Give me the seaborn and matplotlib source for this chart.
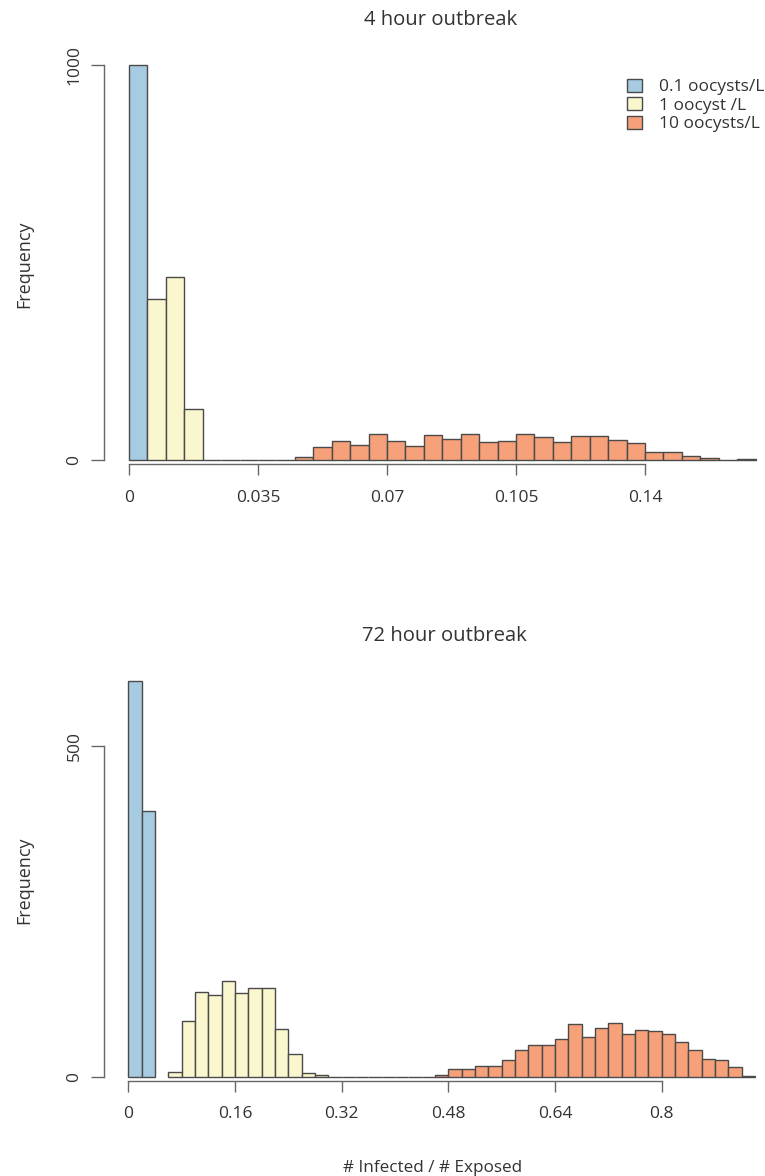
import matplotlib
matplotlib.use("Agg")
import numpy as np
import pandas as pd
import seaborn as sns
import matplotlib.pyplot as plt

sns.set_style("white")
plt.rcParams['font.family'] = ['Open Sans', 'DejaVu Sans']

# series names and colours
labels = ["0.1 oocysts/L", "1 oocyst /L", "10 oocysts/L"]
colors = ["#a7cbe0", "#faf6cd", "#f6a17a"]

# 4 hour outbreak: bin width 0.005, counts per bin starting at given left edge
top_width = 0.005
top_blue_start = 0.0
top_blue = [1000]
top_yellow_start = 0.005
top_yellow = [408, 463, 129]
top_orange_start = 0.02
top_orange = [0, 0, 0, 0, 0, 7, 32, 48, 38, 67, 49, 35, 64, 53, 67, 46, 48, 65,
              57, 45, 62, 62, 50, 44, 19, 19, 11, 4, 0, 2]
top_xticks = [0, 0.035, 0.07, 0.105, 0.14]
top_yticks = [0, 1000]

# 72 hour outbreak: bin width 0.02
bot_width = 0.02
bot_blue_start = 0.0
bot_blue = [598, 402]
bot_yellow_start = 0.06
bot_yellow = [7, 84, 128, 124, 144, 127, 134, 134, 72, 35, 6, 2]
bot_orange_start = 0.3
bot_orange = [0, 0, 0, 0, 0, 0, 0, 0, 2, 11, 12, 16, 16, 25, 40, 48, 48, 57, 79,
              60, 73, 81, 65, 70, 69, 65, 53, 41, 26, 25, 14, 1]
bot_xticks = [0, 0.16, 0.32, 0.48, 0.64, 0.8]
bot_yticks = [0, 500]

W, H = 765, 1176
fig = plt.figure(figsize=(W / 100, H / 100), dpi=100)


def draw_hist(ax, start, counts, width, color, label):
    edges = start + width * np.arange(len(counts) + 1)
    df = pd.DataFrame({"x": (edges[:-1] + edges[1:]) / 2, "n": counts})
    sns.histplot(data=df, x="x", weights="n", bins=list(edges), color=color,
                 alpha=1, edgecolor="#4a4a4a", linewidth=1.0, label=label, ax=ax)


def style_axis(ax, xticks, yticks):
    for s in ["top", "right"]:
        ax.spines[s].set_visible(False)
    for s in ["left", "bottom"]:
        ax.spines[s].set_color("#666666")
        ax.spines[s].set_linewidth(1.0)
    ax.spines["bottom"].set_bounds(xticks[0], xticks[-1])
    ax.spines["left"].set_bounds(yticks[0], yticks[-1])
    ax.set_xticks(xticks)
    ax.set_xticklabels([f"{t:g}" for t in xticks])
    ax.set_yticks(yticks)
    ax.set_yticklabels([str(t) for t in yticks], rotation=90, va="center")
    ax.tick_params(axis="x", direction="out", length=8, width=1, color="#666666",
                   labelsize=12.5, labelcolor="#333333", pad=10.5, bottom=True)
    ax.tick_params(axis="y", direction="out", length=9.5, width=1, color="#666666",
                   labelsize=12.5, labelcolor="#333333", pad=6, left=True)
    ax.set_xlabel("")
    ax.set_ylabel("")
    ax.grid(False)


# top panel
ax1 = fig.add_axes([104 / W, 1 - 464 / H, 661 / W, 414 / H])
draw_hist(ax1, top_blue_start, top_blue, top_width, colors[0], labels[0])
draw_hist(ax1, top_yellow_start, top_yellow, top_width, colors[1], labels[1])
draw_hist(ax1, top_orange_start, top_orange, top_width, colors[2], labels[2])
ax1.set_xlim(-25 / 3686, (765 - 129) / 3686)
ax1.set_ylim(-4 / 0.395, 410 / 0.395)
style_axis(ax1, top_xticks, top_yticks)
ax1.legend(loc="upper left", bbox_to_anchor=(627 / W, 1 - 79 / H),
           bbox_transform=fig.transFigure, frameon=False, fontsize=12.5,
           handlelength=0.86, handleheight=0.75, handletextpad=1.0,
           labelspacing=0.12, borderpad=0, borderaxespad=0, labelcolor="#333333")

# bottom panel
ax2 = fig.add_axes([104 / W, 1 - 1080.7 / H, 661 / W, 415.7 / H])
draw_hist(ax2, bot_blue_start, bot_blue, bot_width, colors[0], labels[0])
draw_hist(ax2, bot_yellow_start, bot_yellow, bot_width, colors[1], labels[1])
draw_hist(ax2, bot_orange_start, bot_orange, bot_width, colors[2], labels[2])
ax2.set_xlim(-24.3 / 666.7, (765 - 128.3) / 666.7)
ax2.set_ylim(-4 / 0.662, 411.7 / 0.662)
style_axis(ax2, bot_xticks, bot_yticks)

txt = dict(color="#333333", ha="center")
fig.text(441 / W, 1 - 25 / H, "4 hour outbreak", fontsize=14.6, va="baseline", **txt)
fig.text(444 / W, 1 - 641 / H, "72 hour outbreak", fontsize=14.6, va="baseline", **txt)
fig.text(24 / W, 1 - 264 / H, "Frequency", fontsize=13, rotation=90, va="center", **txt)
fig.text(24 / W, 1 - 880 / H, "Frequency", fontsize=13, rotation=90, va="center", **txt)
fig.text(433 / W, 1 - 1172 / H, "# Infected / # Exposed", fontsize=12.3, va="baseline", **txt)

fig.savefig("out.png", dpi=100)
